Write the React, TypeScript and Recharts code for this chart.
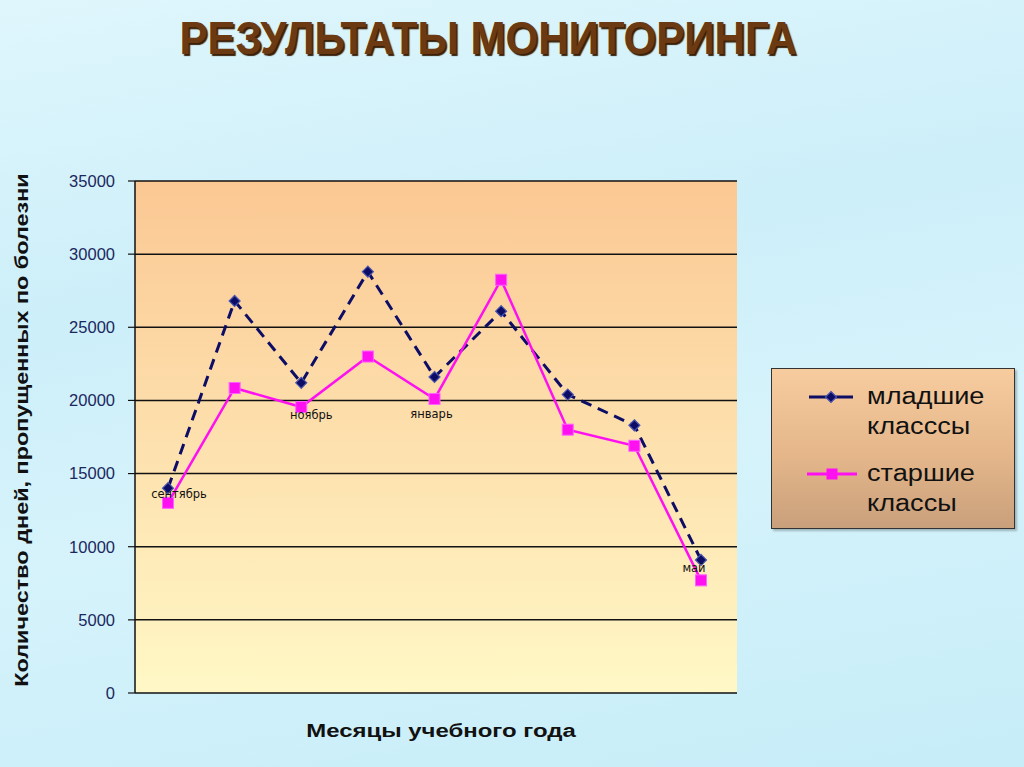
import React from 'react';
import { LineChart, Line, XAxis, YAxis, CartesianGrid, LabelList } from 'recharts';

const months = ['сентябрь', 'октябрь', 'ноябрь', 'декабрь', 'январь', 'февраль', 'март', 'апрель', 'май'];
const younger = [14000, 26800, 21200, 28800, 21600, 26100, 20400, 18300, 9100];
const older = [13000, 20850, 19550, 23000, 20100, 28250, 18000, 16900, 7700];
const yTicks = [0, 5000, 10000, 15000, 20000, 25000, 30000, 35000];
const shownMonths = ['сентябрь', 'ноябрь', 'январь', 'май'];
const youngerName = ['младшие', 'класссы'];
const olderName = ['старшие', 'классы'];

const labelOffsets: Record<string, [number, number]> = {
  'сентябрь': [11, -8],
  'ноябрь': [10, 8],
  'январь': [-3, 16],
  'май': [-7, -12],
};

const data = months.map((m, i) => ({ month: m, younger: younger[i], older: older[i] }));

const NAVY = '#0d0d66';
const MAGENTA = '#ff10f0';
const FRAME = '#8a8a8a';

const Diamond = (props: any) => {
  const { cx, cy } = props;
  if (cx == null || cy == null) return null;
  const r = 5.5;
  return (
    <polygon
      points={`${cx},${cy - r} ${cx + r},${cy} ${cx},${cy + r} ${cx - r},${cy}`}
      fill={NAVY}
      stroke="#4a55b0"
      strokeWidth={1.2}
    />
  );
};

const Square = (props: any) => {
  const { cx, cy } = props;
  if (cx == null || cy == null) return null;
  const s = 11;
  return <rect x={cx - s / 2} y={cy - s / 2} width={s} height={s} fill={MAGENTA} stroke="#ff60ff" strokeWidth={1} />;
};

const MonthLabel = (props: any) => {
  const { x, y, value } = props;
  if (!shownMonths.includes(value)) return null;
  const [dx, dy] = labelOffsets[value] || [0, 0];
  return (
    <text
      x={x + dx}
      y={y + dy}
      textAnchor="middle"
      dominantBaseline="middle"
      fontFamily="'DejaVu Sans', Verdana, sans-serif"
      fontSize={11.5}
      fill="#111"
    >
      {value}
    </text>
  );
};

const legendText: React.CSSProperties = {
  position: 'absolute',
  left: 95,
  lineHeight: '30px',
  transform: 'scaleX(1.18)',
  transformOrigin: 'left center',
  whiteSpace: 'nowrap',
};

const LegendBox = () => (
  <div
    style={{
      position: 'absolute',
      left: 771,
      top: 368,
      width: 242,
      height: 159,
      border: '1.5px solid #333',
      background: 'linear-gradient(to bottom, #f7cc9f 0%, #e4b68a 55%, #c9a07c 100%)',
      boxShadow: '2px 2px 2px rgba(0,0,0,0.25)',
      fontFamily: "'Liberation Sans', Arial, sans-serif",
      fontSize: 23,
      color: '#111',
    }}
  >
    <svg width={50} height={20} style={{ position: 'absolute', left: 35, top: 18 }}>
      <line x1={2} y1={10} x2={46} y2={10} stroke={NAVY} strokeWidth={3} />
      <polygon points="24,4.5 29.5,10 24,15.5 18.5,10" fill={NAVY} stroke="#4a55b0" strokeWidth={1.2} />
    </svg>
    <div style={{ ...legendText, top: 12 }}>
      {youngerName[0]}
      <br />
      {youngerName[1]}
    </div>
    <svg width={56} height={20} style={{ position: 'absolute', left: 33, top: 95 }}>
      <line x1={2} y1={10} x2={52} y2={10} stroke={MAGENTA} strokeWidth={3} />
      <rect x={21.5} y={4.5} width={11} height={11} fill={MAGENTA} />
    </svg>
    <div style={{ ...legendText, top: 89 }}>
      {olderName[0]}
      <br />
      {olderName[1]}
    </div>
  </div>
);

export default function App() {
  return (
    <div
      style={{
        position: 'absolute',
        left: 0,
        top: 0,
        width: 1024,
        height: 767,
        overflow: 'hidden',
        background: 'linear-gradient(170deg, #dff6fc 0%, #cdeff9 35%, #d6f3fb 60%, #c6edf8 100%)',
      }}
    >
      <div
        style={{
          position: 'absolute',
          left: 488,
          top: 38,
          transform: 'translate(-50%, -50%) scaleX(0.915)',
          whiteSpace: 'nowrap',
          fontFamily: "'Liberation Sans', Arial, sans-serif",
          fontWeight: 'bold',
          fontSize: 46,
          color: '#6b3a12',
          textShadow: '2px 2px 1px #3a2008',
        }}
      >
        РЕЗУЛЬТАТЫ МОНИТОРИНГА
      </div>
      <div style={{ position: 'absolute', left: 0, top: 0 }}>
        <LineChart width={1024} height={767} data={data} margin={{ top: 181, right: 287, bottom: 74, left: 35 }}>
          <defs>
            <linearGradient id="plotGrad" x1="0" y1="0" x2="0" y2="1">
              <stop offset="0%" stopColor="#fbc893" />
              <stop offset="50%" stopColor="#fde0ad" />
              <stop offset="100%" stopColor="#fff8c6" />
            </linearGradient>
          </defs>
          <CartesianGrid
            vertical={false}
            stroke="#111"
            strokeWidth={1.5}
            fill="url(#plotGrad)"
            fillOpacity={1}
          />
          <XAxis
            dataKey="month"
            padding={{ left: 33, right: 36 }}
            height={0}
            tick={false}
            tickLine={false}
            axisLine={{ stroke: FRAME, strokeWidth: 2.5 }}
          />
          <XAxis
            xAxisId="top"
            orientation="top"
            dataKey="month"
            padding={{ left: 33, right: 36 }}
            height={0}
            tick={false}
            tickLine={false}
            axisLine={{ stroke: FRAME, strokeWidth: 2 }}
          />
          <YAxis
            width={100}
            domain={[0, 35000]}
            ticks={yTicks}
            interval={0}
            axisLine={{ stroke: '#111', strokeWidth: 1.5 }}
            tickLine={{ stroke: '#111', strokeWidth: 1.2 }}
            tickSize={7}
            tickMargin={13}
            tick={{ fill: '#1b2860', fontSize: 16.5, fontFamily: "'Liberation Sans', Arial, sans-serif" }}
          />
          <YAxis
            yAxisId="right"
            orientation="right"
            width={0}
            domain={[0, 35000]}
            tick={false}
            tickLine={false}
            axisLine={{ stroke: FRAME, strokeWidth: 2.5 }}
          />
          <Line
            dataKey="younger"
            stroke={NAVY}
            strokeWidth={3}
            strokeDasharray="11 7"
            dot={<Diamond />}
            activeDot={false}
            isAnimationActive={false}
          />
          <Line
            dataKey="older"
            stroke={MAGENTA}
            strokeWidth={2.5}
            dot={<Square />}
            activeDot={false}
            isAnimationActive={false}
          >
            <LabelList dataKey="month" content={<MonthLabel />} />
          </Line>
        </LineChart>
      </div>
      <div
        style={{
          position: 'absolute',
          left: 22,
          top: 430,
          transform: 'translate(-50%, -50%) rotate(-90deg) scaleX(1.3)',
          whiteSpace: 'nowrap',
          fontFamily: "'Liberation Sans', Arial, sans-serif",
          fontWeight: 'bold',
          fontSize: 18,
          color: '#111',
        }}
      >
        Количество дней, пропущенных по болезни
      </div>
      <div
        style={{
          position: 'absolute',
          left: 441,
          top: 731,
          transform: 'translate(-50%, -50%) scaleX(1.33)',
          whiteSpace: 'nowrap',
          fontFamily: "'Liberation Sans', Arial, sans-serif",
          fontWeight: 'bold',
          fontSize: 18,
          color: '#111',
        }}
      >
        Месяцы учебного года
      </div>
      <LegendBox />
    </div>
  );
}
